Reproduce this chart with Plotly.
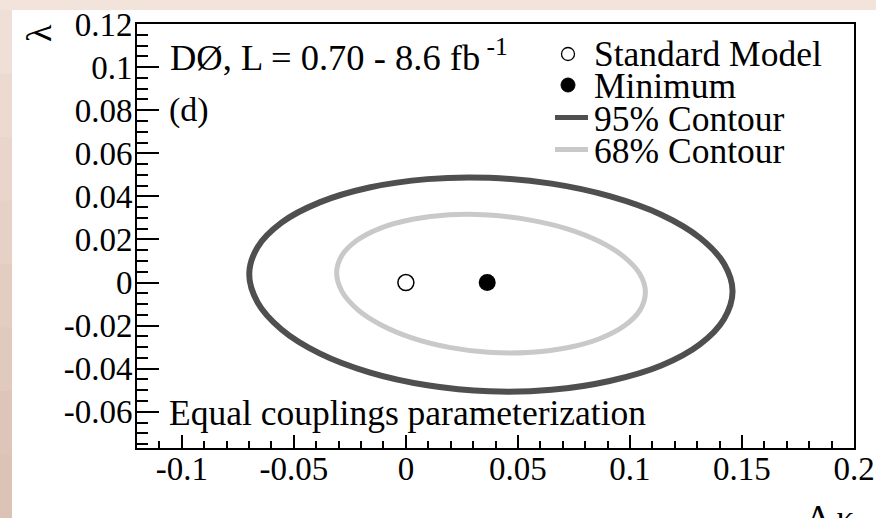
import plotly.graph_objects as go

# ---- data -------------------------------------------------------------
# 95% confidence-level contour in the (delta kappa, lambda) plane
c95_dk = [0.0373, 0.0650, 0.0909, 0.1140, 0.1312, 0.1420, 0.1458, 0.1420,
          0.1312, 0.1140, 0.0909, 0.0650, 0.0373, 0.0096, -0.0163, -0.0385,
          -0.0555, -0.0662, -0.0699, -0.0662, -0.0555, -0.0385, -0.0163, 0.0096]
c95_lam = [0.0486, 0.0459, 0.0401, 0.0315, 0.0208, 0.0087, -0.0040, -0.0169,
           -0.0287, -0.0385, -0.0457, -0.0498, -0.0505, -0.0477, -0.0417, -0.0329,
           -0.0218, -0.0092, 0.0040, 0.0164, 0.0278, 0.0372, 0.0441, 0.0480]

# 68% confidence-level contour
c68_dk = [0.0369, 0.0544, 0.0720, 0.0864, 0.0975, 0.1045, 0.1069, 0.1045,
          0.0975, 0.0864, 0.0720, 0.0544, 0.0369, 0.0194, 0.0030, -0.0110,
          -0.0218, -0.0286, -0.0309, -0.0286, -0.0218, -0.0110, 0.0030, 0.0194]
c68_lam = [0.0314, 0.0292, 0.0249, 0.0190, 0.0118, 0.0038, -0.0045, -0.0128,
           -0.0201, -0.0261, -0.0303, -0.0325, -0.0324, -0.0301, -0.0258, -0.0197,
           -0.0123, -0.0040, 0.0045, 0.0125, 0.0196, 0.0254, 0.0294, 0.0315]

sm_point = (0.0, 0.0)        # Standard Model
min_point = (0.0363, 0.0)    # best-fit minimum

x_ticks = [-0.1, -0.05, 0.0, 0.05, 0.1, 0.15, 0.2]
x_ticktext = ["-0.1", "-0.05", "0", "0.05", "0.1", "0.15", "0.2"]
y_ticks = [-0.06, -0.04, -0.02, 0.0, 0.02, 0.04, 0.06, 0.08, 0.1, 0.12]
y_ticktext = ["-0.06", "-0.04", "-0.02", "0", "0.02", "0.04", "0.06", "0.08", "0.1", "0.12"]

legend_labels = ["Standard Model", "Minimum", "95% Contour", "68% Contour"]

# ---- styling ----------------------------------------------------------
W, H = 876, 518
ML, MR, MT, MB = 137, 22, 24, 70
PW, PH = W - ML - MR, H - MT - MB
FONT = "'Liberation Serif', 'Times New Roman', Times, 'DejaVu Serif', serif"
DARK = "#4f4f4f"
LIGHT = "#c9c9c9"


def px(xp):
    return (xp - ML) / PW


def py(yp):
    return (H - MB - yp) / PH


def closed(xs, ys):
    return xs + xs[:1], ys + ys[:1]


fig = go.Figure()

x95, y95 = closed(c95_dk, c95_lam)
fig.add_trace(go.Scatter(x=x95, y=y95, mode="lines", name=legend_labels[2],
                         line=dict(color=DARK, width=6, shape="spline", smoothing=1),
                         showlegend=False, hoverinfo="skip"))
x68, y68 = closed(c68_dk, c68_lam)
fig.add_trace(go.Scatter(x=x68, y=y68, mode="lines", name=legend_labels[3],
                         line=dict(color=LIGHT, width=5, shape="spline", smoothing=1),
                         showlegend=False, hoverinfo="skip"))
fig.add_trace(go.Scatter(x=[sm_point[0]], y=[sm_point[1]], mode="markers",
                         name=legend_labels[0], showlegend=False,
                         marker=dict(size=16, color="white",
                                     line=dict(color="black", width=1.5))))
fig.add_trace(go.Scatter(x=[min_point[0]], y=[min_point[1]], mode="markers",
                         name=legend_labels[1], showlegend=False,
                         marker=dict(size=17, color="black")))

shapes = []
# page background: pale pink strip along the top and a darker one on the left
shapes.append(dict(type="rect", xref="paper", yref="paper", layer="below",
                   x0=px(-5), x1=px(W + 5), y0=py(10), y1=py(-5),
                   fillcolor="#f2e3db", line_width=0))
left_cols = ["#f0dfd6", "#ecdad0", "#e9d5cb", "#e6d1c6", "#e3cdc1",
             "#e0c9bd", "#ddc6b9", "#dbc3b6"]
band = (H - 10) / len(left_cols)
for i, c in enumerate(left_cols):
    shapes.append(dict(type="rect", xref="paper", yref="paper", layer="below",
                       x0=px(-5), x1=px(12), y0=py(10 + i * band + band + 1),
                       y1=py(10 + i * band), fillcolor=c, line_width=0))

# legend keys
lx = px(568)
shapes.append(dict(type="circle", xref="paper", yref="paper", xsizemode="pixel",
                   ysizemode="pixel", xanchor=lx, yanchor=py(54),
                   x0=-6.5, x1=6.5, y0=-6.5, y1=6.5,
                   fillcolor="white", line=dict(color="black", width=1.3)))
shapes.append(dict(type="circle", xref="paper", yref="paper", xsizemode="pixel",
                   ysizemode="pixel", xanchor=lx, yanchor=py(85),
                   x0=-7, x1=7, y0=-7, y1=7,
                   fillcolor="black", line=dict(color="black", width=1)))
shapes.append(dict(type="line", xref="paper", yref="paper",
                   x0=px(555), x1=px(588), y0=py(117.5), y1=py(117.5),
                   line=dict(color=DARK, width=5)))
shapes.append(dict(type="line", xref="paper", yref="paper",
                   x0=px(555), x1=px(588), y0=py(149.5), y1=py(149.5),
                   line=dict(color=LIGHT, width=5)))

annotations = []


def label(text, x, y, size, xanchor="left", angle=0):
    annotations.append(dict(text=text, xref="paper", yref="paper", x=px(x),
                            y=py(y), xanchor=xanchor, yanchor="middle",
                            showarrow=False, textangle=angle,
                            font=dict(family=FONT, size=size, color="black")))


label("DØ, L = 0.70 - 8.6 fb<sup> -1</sup>", 168, 55, 36.5)
label("(d)", 167, 110, 34)
label("Equal couplings parameterization", 167, 413, 35.5)
for i, t in enumerate(legend_labels):
    label(t, 592, 54 + 32.3 * i, 35.5)

# axis titles
annotations.append(dict(text="λ", xref="paper", yref="paper", x=px(39), y=py(33),
                        xanchor="center", yanchor="middle", showarrow=False,
                        textangle=-90, font=dict(family=FONT, size=36, color="black")))
annotations.append(dict(text="Δ\u2009κ", xref="paper", yref="paper", x=px(857),
                        y=py(497), xanchor="right", yanchor="top", showarrow=False,
                        font=dict(family=FONT, size=35, color="black")))

tick_font = dict(family=FONT, size=33, color="black")
fig.update_layout(
    width=W, height=H,
    margin=dict(l=ML, r=MR, t=MT, b=MB, pad=0, autoexpand=False),
    paper_bgcolor="white",
    plot_bgcolor="white",
    showlegend=False,
    shapes=shapes,
    annotations=annotations,
    xaxis=dict(range=[-0.12, 0.2], tickvals=x_ticks, ticktext=x_ticktext,
               ticks="inside", ticklen=13, tickwidth=1.5, tickcolor="black",
               minor=dict(dtick=0.01, tick0=0, ticks="inside", ticklen=7,
                          tickwidth=1.5, tickcolor="black"),
               showline=True, linewidth=2, linecolor="black", mirror=True,
               showgrid=False, zeroline=False, tickfont=tick_font,
               ticklabelstandoff=-10, automargin=False),
    yaxis=dict(range=[-0.0768, 0.12], tickvals=y_ticks, ticktext=y_ticktext,
               ticks="inside", ticklen=22, tickwidth=1.5, tickcolor="black",
               minor=dict(dtick=0.005, tick0=0, ticks="inside", ticklen=11,
                          tickwidth=1.5, tickcolor="black"),
               showline=True, linewidth=2, linecolor="black", mirror=True,
               showgrid=False, zeroline=False, tickfont=tick_font,
               ticklabelstandoff=-4, automargin=False),
)

fig.write_html("out.html")
